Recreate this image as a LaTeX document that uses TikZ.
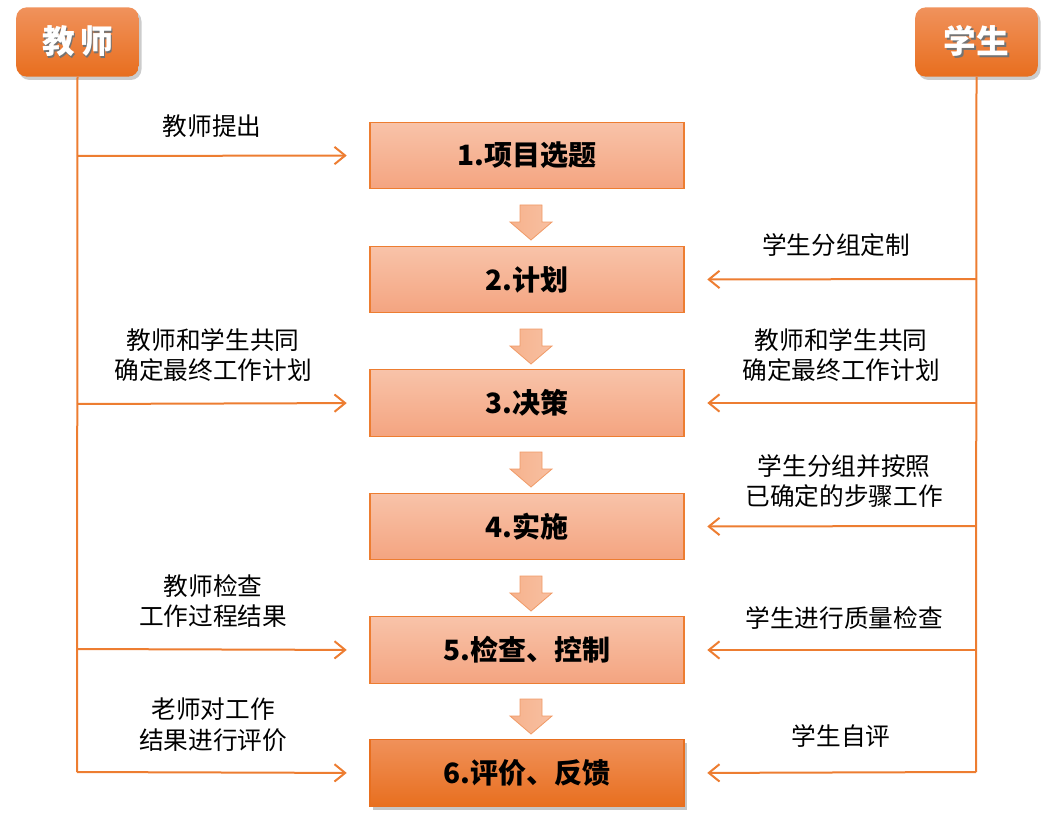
\documentclass[tikz,border=0pt]{standalone}
\usepackage{fontspec}
\setmainfont{Noto Sans CJK SC}
\usepackage{tikz}
\usetikzlibrary{arrows.meta,positioning,shadows}
\usepackage{xcolor}
\definecolor{lineor}{HTML}{ED7D31}
\definecolor{hdtop}{HTML}{F0925C}
\definecolor{hdbot}{HTML}{E86E1E}
\definecolor{sttop}{HTML}{F8C3A9}
\definecolor{stbot}{HTML}{F4A480}
\definecolor{lasttop}{HTML}{F0915A}
\definecolor{lastbot}{HTML}{E86F1F}
\definecolor{blktop}{HTML}{F6B28D}
\definecolor{blkbot}{HTML}{F8C0A2}
\definecolor{blkline}{HTML}{F09A66}
\newcommand\shtxt[1]{\makebox[0pt][l]{\raisebox{-1.3pt}{\kern1.3pt\textcolor{black!55}{#1}}}#1}

\begin{document}
\begin{tikzpicture}[x=0.75pt,y=-0.75pt,
  >={Straight Barb[length=8pt,width=13pt]},
  hdr/.style={rounded corners=8pt,top color=hdtop,bottom color=hdbot,
    drop shadow={opacity=0.4,shadow xshift=2pt,shadow yshift=-2.5pt},
    minimum width=92pt,minimum height=52pt,text=white,
    font=\fontsize{24.5}{28}\selectfont\bfseries},
  stepbox/.style={draw=lineor,line width=0.9pt,top color=sttop,bottom color=stbot,
    minimum width=235.5pt,minimum height=50pt,
    font=\fontsize{21}{25}\selectfont\bfseries},
  lastbox/.style={stepbox,draw=lastbot,top color=lasttop,bottom color=lastbot,
    drop shadow={opacity=0.45,shadow xshift=2pt,shadow yshift=-2.5pt}},
  blk/.style={draw=blkline,line width=0.6pt,left color=blktop,right color=blkbot},
  lbl/.style={align=center,font=\fontsize{18.5}{23}\selectfont},
  flow/.style={->,draw=lineor,line width=1.5pt,shorten >=17pt},
  line/.style={draw=lineor,line width=1.5pt}]
\useasboundingbox (0,0) rectangle (1053,820);

% headers
\node[hdr] (T) at (77.5,42) {\shtxt{教}\,\shtxt{师}};
\node[hdr] (S) at (976.5,42) {\shtxt{学生}};

% steps
\node[stepbox] (s1) at (527,155.5) {1.项目选题};
\node[stepbox] (s2) at (527,279.5) {2.计划};
\node[stepbox] (s3) at (527,403) {3.决策};
\node[stepbox] (s4) at (527,526.5) {4.实施};
\node[stepbox] (s5) at (527,650) {5.检查、控制};
\node[lastbox] (s6) at (527,773) {6.评价、反馈};

% block arrows between steps
\foreach \y in {222,346,469,593,716}
  \draw[blk] (520,\y-17) -- (542,\y-17) -- (542,\y) -- (552,\y) -- (531,\y+18)
    -- (510,\y) -- (520,\y) -- cycle;

% points on the two lines
\coordinate (l1) at (77,156);
\coordinate (l3) at (77,404);
\coordinate (l5) at (77,649);
\coordinate (l6) at (77,772);
\coordinate (r2) at (976,279);
\coordinate (r3) at (976,403);
\coordinate (r4) at (976,526);
\coordinate (r5) at (976,650);
\coordinate (r6) at (976,772);

\draw[line] (T.south) -- (l6);
\draw[line] (S.south) -- (r6);

\draw[flow] (l1) -- (s1.west);
\draw[flow] (l3) -- (s3.west);
\draw[flow] (l5) -- (s5.west);
\draw[flow] (l6) -- (s6.west);
\draw[flow] (r2) -- (s2.east);
\draw[flow] (r3) -- (s3.east);
\draw[flow] (r4) -- (s4.east);
\draw[flow] (r5) -- (s5.east);
\draw[flow] (r6) -- (s6.east);

% labels
\node[lbl] (tl1) at (212,126) {教师提出};
\node[lbl] (tl3) at (213,355) {教师和学生共同\\确定最终工作计划};
\node[lbl] (tl5) at (213,601) {教师检查\\工作过程结果};
\node[lbl] (tl6) at (213,725) {老师对工作\\结果进行评价};
\node[lbl] (sl2) at (836,245) {学生分组定制};
\node[lbl] (sl3) at (841,355) {教师和学生共同\\确定最终工作计划};
\node[lbl] (sl4) at (844,481) {学生分组并按照\\已确定的步骤工作};
\node[lbl] (sl5) at (844,618) {学生进行质量检查};
\node[lbl] (sl6) at (841,736) {学生自评};
\end{tikzpicture}
\end{document}
